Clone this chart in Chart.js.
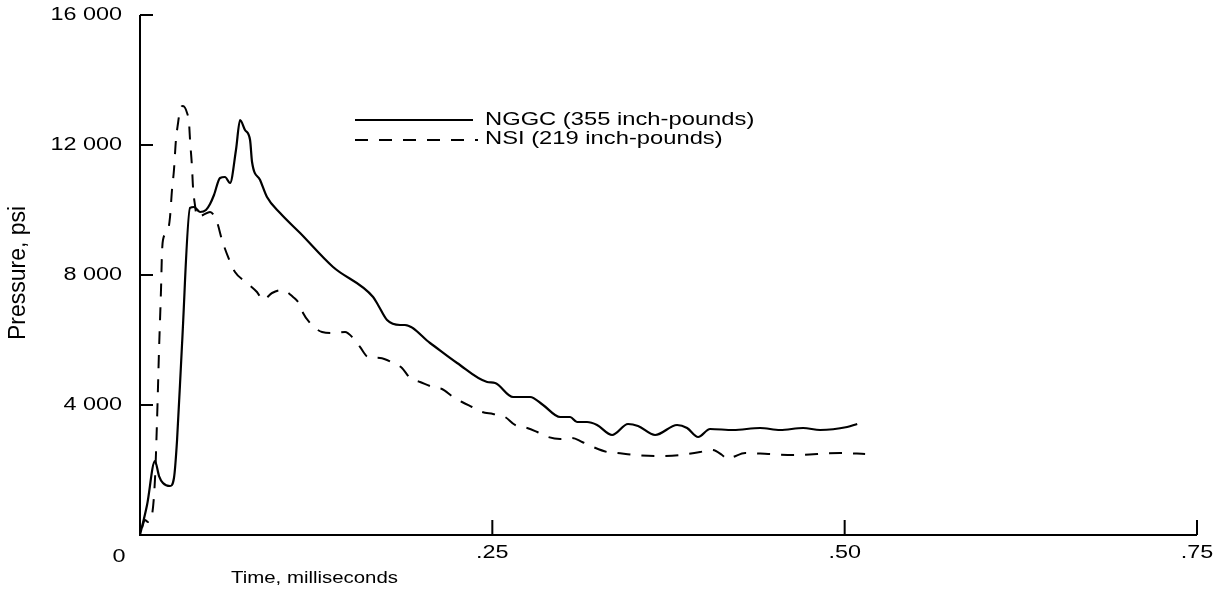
<!DOCTYPE html>
<html>
<head>
<meta charset="utf-8">
<script src="https://cdn.jsdelivr.net/npm/chart.js@4/dist/chart.umd.min.js"></script>
<style>
  body { margin: 0; background: #fff; }
  #wrap { width: 1224px; height: 599px; }
</style>
</head>
<body>
<div id="wrap"><canvas id="pressure-chart" width="1224" height="599"></canvas></div>
<script>
// time in milliseconds, pressure in psi
var nggcTime = [0, 0.005, 0.0106, 0.0135, 0.0163, 0.0213, 0.0241, 0.0263, 0.0298, 0.0355, 0.0383, 0.0426, 0.0468, 0.0497, 0.0525, 0.0568, 0.0603, 0.0639, 0.0681, 0.071, 0.0745, 0.0781, 0.0795, 0.0852, 0.0901, 0.0994, 0.1136, 0.137, 0.1654, 0.1689, 0.1753, 0.1845, 0.188, 0.2058, 0.225, 0.2463, 0.252, 0.2647, 0.2768, 0.286, 0.2981, 0.3052, 0.3101, 0.3172, 0.3243, 0.335, 0.3463, 0.3534, 0.3655, 0.3811, 0.3882, 0.396, 0.4045, 0.4209, 0.44, 0.4542, 0.4705, 0.4826, 0.5018, 0.5089];
var nggcPressure = [0, 923, 2277, 1815, 1600, 1508, 1754, 2923, 5846, 10062, 10092, 9938, 10000, 10185, 10462, 10985, 11015, 10831, 11846, 12769, 12462, 12154, 11477, 10923, 10400, 9908, 9292, 8246, 7323, 7077, 6615, 6462, 6462, 5908, 5292, 4708, 4677, 4246, 4246, 4000, 3631, 3631, 3477, 3477, 3385, 3077, 3415, 3354, 3077, 3385, 3292, 3015, 3262, 3231, 3292, 3231, 3292, 3231, 3323, 3415];

var nsiTime = [0.0014, 0.0035, 0.0057, 0.0085, 0.0106, 0.0121, 0.0135, 0.0149, 0.0156, 0.0163, 0.0199, 0.0213, 0.0227, 0.0241, 0.0255, 0.027, 0.0284, 0.0305, 0.0334, 0.0348, 0.0355, 0.0369, 0.0376, 0.039, 0.0405, 0.0447, 0.0497, 0.0546, 0.0582, 0.0625, 0.0674, 0.0759, 0.083, 0.0873, 0.0937, 0.1008, 0.1086, 0.1136, 0.1157, 0.1207, 0.1292, 0.137, 0.1455, 0.1512, 0.1561, 0.1618, 0.1703, 0.1796, 0.1859, 0.1916, 0.1987, 0.2101, 0.2143, 0.2221, 0.2285, 0.2356, 0.2427, 0.2505, 0.259, 0.2661, 0.2747, 0.2818, 0.2896, 0.2981, 0.3066, 0.3137, 0.3215, 0.3314, 0.3385, 0.3513, 0.3669, 0.3833, 0.3974, 0.406, 0.413, 0.4166, 0.4209, 0.4294, 0.4457, 0.4634, 0.4805, 0.4968, 0.5145];
var nsiPressure = [215, 462, 400, 615, 1692, 3538, 5692, 7538, 8677, 9077, 9385, 9785, 10615, 11231, 12154, 12677, 13077, 13200, 12985, 12677, 12154, 11323, 10708, 10154, 9785, 9846, 9938, 9631, 9077, 8554, 8092, 7754, 7477, 7231, 7446, 7538, 7323, 7077, 6831, 6523, 6246, 6215, 6246, 6062, 5785, 5477, 5446, 5292, 5138, 4831, 4708, 4523, 4492, 4246, 4092, 3938, 3785, 3723, 3631, 3385, 3292, 3169, 3015, 2954, 2985, 2862, 2708, 2554, 2523, 2462, 2431, 2462, 2554, 2615, 2462, 2338, 2400, 2523, 2492, 2462, 2492, 2523, 2492];

var yTicks = [0, 4000, 8000, 12000, 16000];
var yTickLabels = ['0', '4 000', '8 000', '12 000', '16 000'];
var xTicks = [0.25, 0.50, 0.75];
var xTickLabels = ['.25', '.50', '.75'];

var seriesLabels = ['NGGC (355 inch-pounds)', 'NSI (219 inch-pounds)'];

function toPoints(xs, ys) {
    return xs.map(function(x, i) { return { x: x, y: ys[i] }; });
}

var FONT = '"Liberation Sans", Arial, Helvetica, sans-serif';

// stretched text, the scan is wider than it is tall
function drawText(ctx, text, x, y, size, sx, align) {
    ctx.save();
    ctx.translate(x, y);
    ctx.scale(sx, 1);
    ctx.font = size + 'px ' + FONT;
    ctx.textAlign = align;
    ctx.textBaseline = 'middle';
    ctx.fillStyle = '#000';
    ctx.fillText(text, 0, 0);
    ctx.restore();
}

var axesPlugin = {
    id: 'paperAxes',
    afterDraw: function(chart) {
        var ctx = chart.ctx;
        var xs = chart.scales.x, ys = chart.scales.y;
        var left = xs.getPixelForValue(0), bottom = ys.getPixelForValue(0);
        var top = ys.getPixelForValue(16000), right = xs.getPixelForValue(0.75);

        ctx.save();
        ctx.strokeStyle = '#000';
        ctx.lineWidth = 2;
        ctx.beginPath();
        ctx.moveTo(left, top);
        ctx.lineTo(left, bottom);
        ctx.lineTo(right, bottom);
        ctx.stroke();

        // y ticks point inward
        ctx.beginPath();
        yTicks.forEach(function(v) {
            if (v === 0) return;
            var py = ys.getPixelForValue(v);
            ctx.moveTo(left, py);
            ctx.lineTo(left + 13, py);
        });
        // x ticks point up
        xTicks.forEach(function(v) {
            var px = xs.getPixelForValue(v);
            ctx.moveTo(px, bottom);
            ctx.lineTo(px, bottom - 15);
        });
        ctx.stroke();
        ctx.restore();

        yTicks.forEach(function(v, i) {
            if (v === 0) {
                drawText(ctx, yTickLabels[i], left - 21, bottom + 22, 18, 1.3, 'center');
            } else {
                drawText(ctx, yTickLabels[i], left - 18, ys.getPixelForValue(v), 18, 1.3, 'right');
            }
        });
        xTicks.forEach(function(v, i) {
            drawText(ctx, xTickLabels[i], xs.getPixelForValue(v), bottom + 18, 18, 1.3, 'center');
        });

        drawText(ctx, 'Time, milliseconds', 231, 578, 17, 1.2, 'left');

        ctx.save();
        ctx.translate(19, 273);
        ctx.rotate(-Math.PI / 2);
        ctx.font = '23px ' + FONT;
        ctx.textAlign = 'center';
        ctx.textBaseline = 'middle';
        ctx.fillStyle = '#000';
        ctx.fillText('Pressure, psi', 0, 0);
        ctx.restore();

        // legend
        ctx.save();
        ctx.strokeStyle = '#000';
        ctx.lineWidth = 2.2;
        ctx.beginPath();
        ctx.moveTo(355, 120);
        ctx.lineTo(473, 120);
        ctx.stroke();
        ctx.lineWidth = 2;
        ctx.setLineDash([13, 11]);
        ctx.beginPath();
        ctx.moveTo(355, 140);
        ctx.lineTo(478, 140);
        ctx.stroke();
        ctx.restore();
        drawText(ctx, seriesLabels[0], 485, 120, 19, 1.25, 'left');
        drawText(ctx, seriesLabels[1], 485, 139, 19, 1.25, 'left');
    }
};

var pressure_chart = document.getElementById('pressure-chart').getContext('2d');
var myChart = new Chart(pressure_chart, {
    type: 'line',
    data: {
        datasets: [{
            label: seriesLabels[0],
            data: toPoints(nggcTime, nggcPressure),
            borderColor: '#000',
            borderWidth: 2.2,
            fill: false,
            cubicInterpolationMode: 'monotone',
            pointRadius: 0,
            clip: false
        }, {
            label: seriesLabels[1],
            data: toPoints(nsiTime, nsiPressure),
            borderColor: '#000',
            borderWidth: 2,
            borderDash: [13, 11],
            fill: false,
            cubicInterpolationMode: 'monotone',
            pointRadius: 0,
            clip: false
        }]
    },
    options: {
        responsive: false,
        animation: false,
        events: [],
        layout: {
            padding: { left: 140, right: 27, top: 15, bottom: 64 }
        },
        plugins: {
            legend: { display: false },
            title: { display: false },
            tooltip: { enabled: false }
        },
        scales: {
            x: { type: 'linear', min: 0, max: 0.75, display: false },
            y: { type: 'linear', min: 0, max: 16000, display: false }
        }
    },
    plugins: [axesPlugin]
});
</script>
</body>
</html>
